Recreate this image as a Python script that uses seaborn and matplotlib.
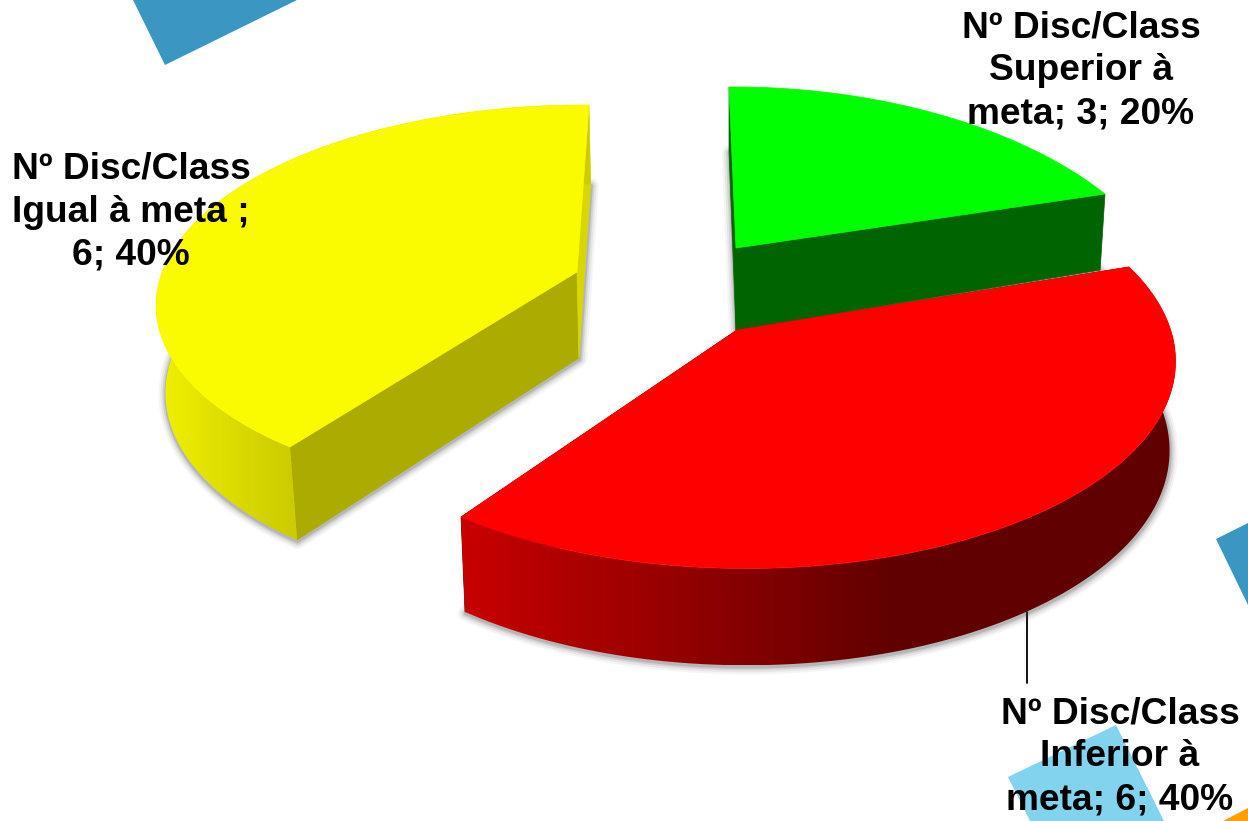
import numpy as np
import matplotlib
matplotlib.use("Agg")
import matplotlib.pyplot as plt
from matplotlib.patches import Polygon
import seaborn as sns

categories = ["Superior à meta", "Inferior à meta", "Igual à meta"]
counts = [3, 6, 6]
label_lines = [
    "Nº Disc/Class\nSuperior à\nmeta; {}; {}%",
    "Nº Disc/Class\nInferior à\nmeta; {}; {}%",
    "Nº Disc/Class\nIgual à meta ;\n{}; {}%",
]
top_colors = ["#00FF00", "#FF0000", "#FAFA00"]
start_face = ["#006400", "#640000", "#ABAB00"]
end_face = ["#006400", "#640000", "#D8D800"]
wall_colors = [["#006400", "#006400"], ["#C80000", "#600000"], ["#F0F000", "#CCCC00"]]
wall_x = [(740, 1100), (461, 900), (160, 290)]

# where each slice lands on the page: apex, start, end, middle of the arc
top_anchors = [
    [(736, 248), (729, 87), (1105, 194), (930, 112)],
    [(737, 330), (1129, 267), (461, 517), (1030, 517)],
    [(577, 272), (290, 447), (589, 105), (204, 214)],
]
# thickness of each slice: vanishing x, x pull, depth at apex, depth growth with y
extrude = [(730, 0.013, 82, 0.11), (749, 0.014, 88, 0.037), (680, 0.018, 86, 0.04)]
label_pos = [(1081, 71), (1120, 757), (131, 212)]


def homography(world, page):
    rows, rhs = [], []
    for (x, y), (u, v) in zip(world, page):
        rows.append([x, y, 1, 0, 0, 0, -u * x, -u * y])
        rows.append([0, 0, 0, x, y, 1, -v * x, -v * y])
        rhs += [u, v]
    h = np.linalg.solve(np.array(rows, float), np.array(rhs, float))
    return np.append(h, 1).reshape(3, 3)


def project(H, x, y):
    p = H @ np.vstack([x, y, np.ones_like(x)])
    return p[0] / p[2], p[1] / p[2]


def world_pts(a0, a1):
    mid = (a0 + a1) / 2
    return [(0, 0), (np.sin(a0), np.cos(a0)), (np.sin(a1), np.cos(a1)), (np.sin(mid), np.cos(mid))]


def lower(x, y, apex_y, params):
    vx, k, depth, grow = params
    return x + k * (vx - x), y + depth + grow * (y - apex_y)


sns.set_theme(style="white")
plt.rcParams["font.family"] = ["Liberation Sans", "DejaVu Sans"]

fig = plt.figure(figsize=(12.48, 8.21), dpi=100)
ax = fig.add_axes([0, 0, 1, 1])
ax.axis("off")

# background shapes of the slide
ax.fill([133, 165, 297], [0, 65, 0], color="#3A97C2", lw=0, zorder=0)
ax.fill([1216, 1248, 1248], [539, 523, 605], color="#3A97C2", lw=0, zorder=0)
ax.fill([1008, 1116, 1164, 1030], [777, 725, 821, 821], color="#81D3EE", lw=0, zorder=0)
ax.fill([1223, 1248, 1248], [821, 808, 821], color="#FF9F00", lw=0, zorder=0)

total = sum(counts)
shares = np.array(counts) / total
edges = np.concatenate([[0], np.cumsum(shares)]) * 2 * np.pi

# back slices first, red one sits in front
for i in [0, 2, 1]:
    a0, a1 = edges[i], edges[i + 1]
    H_top = homography(world_pts(a0, a1), top_anchors[i])
    theta = np.linspace(a0, a1, 241)
    tx, ty = project(H_top, np.sin(theta), np.cos(theta))
    ax0, ay0 = project(H_top, np.zeros(1), np.zeros(1))
    bx, by = lower(tx, ty, ay0[0], extrude[i])
    bx0, by0 = lower(ax0, ay0, ay0[0], extrude[i])
    z = {0: 2, 2: 6, 1: 10}[i]

    # soft shadow round the lower face
    sil_x = np.concatenate([bx0, bx])
    sil_y = np.concatenate([by0, by])
    for lw, alpha in [(11, 0.05), (8, 0.08), (5, 0.12), (2.5, 0.18)]:
        ax.fill(sil_x + 0.5, sil_y + 1.5, facecolor="none", edgecolor="#404040",
                lw=lw, alpha=alpha, zorder=z, joinstyle="round")

    # the two cut faces
    ax.fill([ax0[0], tx[0], bx[0], bx0[0]], [ay0[0], ty[0], by[0], by0[0]],
            color=start_face[i], lw=0.5, zorder=z + 1)
    ax.fill([ax0[0], tx[-1], bx[-1], bx0[0]], [ay0[0], ty[-1], by[-1], by0[0]],
            color=end_face[i], lw=0.5, zorder=z + 1)

    # curved wall, gradient along x clipped to the wall outline
    wall = np.column_stack([np.concatenate([tx, bx[::-1]]), np.concatenate([ty, by[::-1]])])
    cmap = sns.blend_palette(wall_colors[i], n_colors=128, as_cmap=True)
    x0, x1 = wall_x[i]
    xs = np.linspace(wall[:, 0].min(), wall[:, 0].max(), 512)
    grad = np.clip((xs - x0) / (x1 - x0), 0, 1).reshape(1, -1)
    if i != 0:
        im = ax.imshow(grad, cmap=cmap, vmin=0, vmax=1, aspect="auto", zorder=z + 2,
                       extent=(xs[0], xs[-1], wall[:, 1].max(), wall[:, 1].min()))
        clip = Polygon(wall, closed=True, transform=ax.transData)
        im.set_clip_path(clip)

    # top face
    ax.fill(np.concatenate([ax0, tx]), np.concatenate([ay0, ty]), color=top_colors[i], lw=0.5, zorder=z + 3)

ax.set_xlim(0, 1248)
ax.set_ylim(821, 0)

# leader line of the red slice
ax.plot([1027, 1027], [612, 683], color="black", lw=1.3, zorder=1.5)

for i, (txt, (lx, ly)) in enumerate(zip(label_lines, label_pos)):
    pct = round(100 * counts[i] / total)
    ax.text(lx, ly, txt.format(counts[i], pct), ha="center", va="center", fontsize=26.7,
            fontweight="bold", color="black", linespacing=1.31, zorder=20)

fig.savefig("out.png", dpi=100)
